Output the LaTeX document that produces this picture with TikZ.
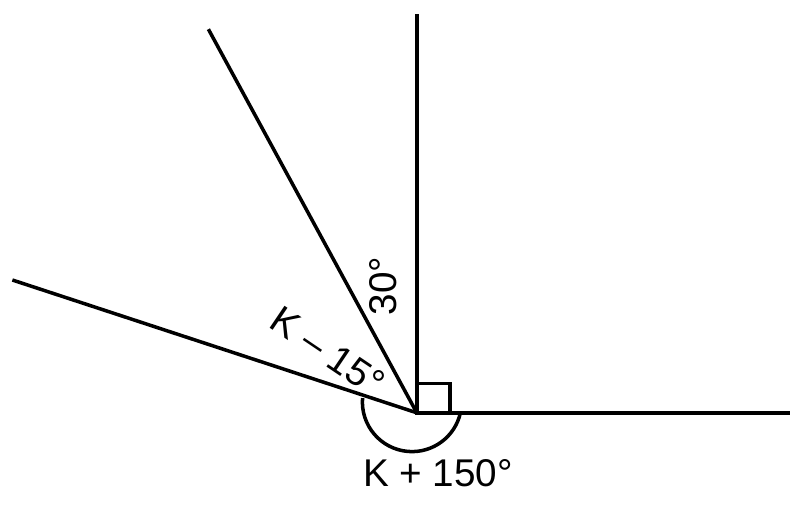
\documentclass[tikz,border=0pt]{standalone}
\usepackage{fontspec}
\setmainfont{Liberation Sans}
\begin{document}
\begin{tikzpicture}[line width=2.5pt, font=\fontsize{27.5}{32}\selectfont]
    \useasboundingbox (-10.42,-2.28) rectangle (9.33,10.32);

    % Vertex and ray ends
    \coordinate (O) at (0,0);
    \coordinate (up) at (0,9.97);
    \coordinate (right) at (9.33,0);
    \coordinate (steep) at (-5.21,9.59);
    \coordinate (flat) at (-10.11,3.32);

    % Rays
    \draw (O) -- (up);
    \draw (O) -- (right);
    \draw (O) -- (steep);
    \draw (O) -- (flat);

    % Right angle
    \draw (O) rectangle (0.83,0.73);

    % Reflex arc
    \coordinate (arcC) at (-0.12,0.27);
    \draw (arcC) ++(175.4:1.24) arc[start angle=175.4, end angle=347.6, radius=1.24];

    % Labels
    \node[rotate=90] (ang30) at (-0.83,3.17) {30°};
    \node[rotate=-34] (angK15) at (-2.22,1.54) {K \textendash{} 15°};
    \node (angK150) at (0.53,-1.5) {K + 150°};

\end{tikzpicture}
\end{document}
